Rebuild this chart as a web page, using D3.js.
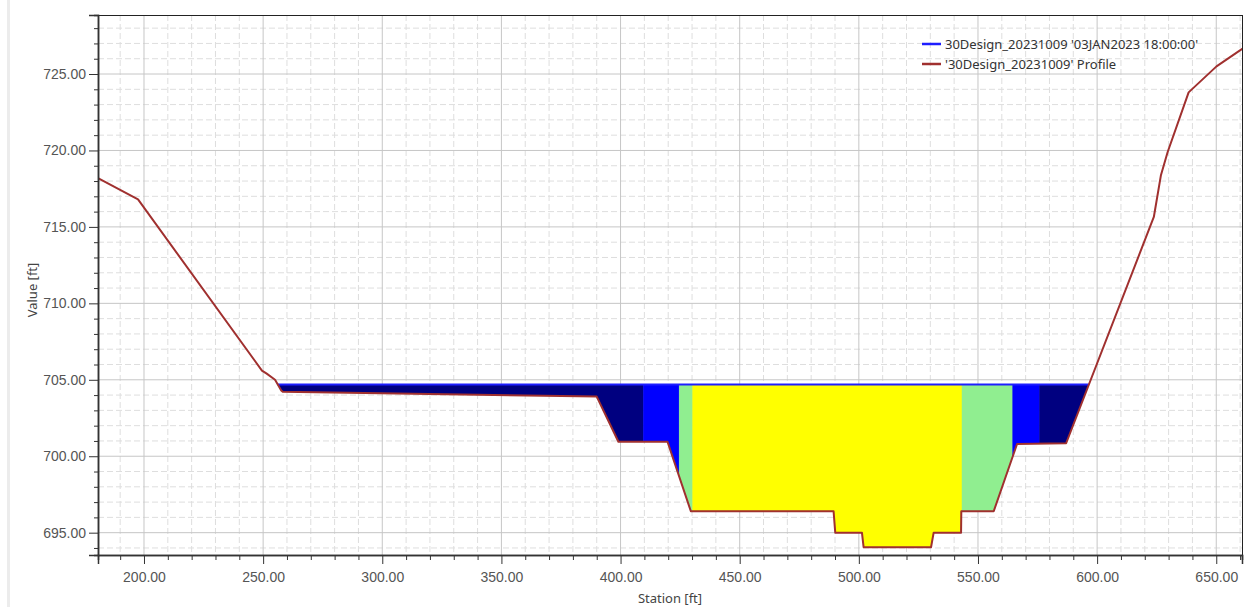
<!DOCTYPE html>
<html><head><meta charset="utf-8">
<script src="https://cdn.jsdelivr.net/npm/d3@7"></script>
<style>
html,body{margin:0;padding:0;background:#fff;}
svg{display:block;font-family:"Noto Sans","Open Sans",sans-serif;}
</style></head>
<body>
<svg id="chart" width="1249" height="607"></svg>
<script>
// ---- data ----
const groundStation = [180.0, 197.5, 249.5, 251.5, 255.0, 257.6, 258.2, 390.0, 399.1, 419.7, 429.5, 489.4, 490.1, 501.3, 502.0, 530.3, 531.4, 542.9, 543.0, 556.6, 566.4, 587.0, 623.8, 626.8, 629.6, 638.4, 650.1, 661.4];
const groundElev    = [718.25, 716.8, 705.6, 705.4, 705.0, 704.3, 704.22, 703.9, 700.95, 700.95, 696.4, 696.4, 695.0, 695.0, 694.05, 694.05, 695.0, 695.0, 696.4, 696.4, 700.8, 700.85, 715.65, 718.4, 719.9, 723.8, 725.5, 726.7];
const wse = 704.7;
// velocity distribution slices: boundaries (stations) and colours
const sliceBounds = [409.6, 424.6, 430.3, 543.3, 564.6, 575.9];
const sliceColors = ["#000080", "#0000ff", "#90ee90", "#ffff00", "#90ee90", "#0000ff", "#000080"];
const xTicks = [200, 250, 300, 350, 400, 450, 500, 550, 600, 650];
const yTicks = [695, 700, 705, 710, 715, 720, 725];
const legendLabels = ["30Design_20231009 '03JAN2023 18:00:00'", "'30Design_20231009' Profile"];

// ---- layout ----
const L = 98, T = 15, R = 1242, B = 555;
const svg = d3.select("#chart");
const x = d3.scaleLinear().domain([180.7, 660.8]).range([L, R]);
const y = d3.scaleLinear().domain([693.54, 728.86]).range([B, T]);

// left window strip
svg.append("rect").attr("x", 7).attr("y", 0).attr("width", 3).attr("height", 607).attr("fill", "#ececec");

const g = svg.append("g");
// grid minor
const xMinor = d3.range(190, 661, 10).filter(v => v % 50 !== 0);
const yMinor = d3.range(694, 729, 1).filter(v => v % 5 !== 0);
g.selectAll(".xm").data(xMinor).join("line")
  .attr("x1", d => x(d)).attr("x2", d => x(d)).attr("y1", T).attr("y2", B)
  .attr("stroke", "#dedede").attr("stroke-dasharray", "6,3").attr("stroke-width", 1);
g.selectAll(".ym").data(yMinor).join("line")
  .attr("y1", d => y(d)).attr("y2", d => y(d)).attr("x1", L).attr("x2", R)
  .attr("stroke", "#dedede").attr("stroke-dasharray", "6,3").attr("stroke-width", 1);
g.selectAll(".xM").data(xTicks).join("line")
  .attr("x1", d => x(d)).attr("x2", d => x(d)).attr("y1", T).attr("y2", B)
  .attr("stroke", "#c6c6c6").attr("stroke-width", 1);
g.selectAll(".yM").data(yTicks).join("line")
  .attr("y1", d => y(d)).attr("y2", d => y(d)).attr("x1", L).attr("x2", R)
  .attr("stroke", "#c6c6c6").attr("stroke-width", 1);

// ---- water polygon ----
const pts = groundStation.map((s, i) => [s, groundElev[i]]);
function crossAt(a, b) { const t = (wse - a[1]) / (b[1] - a[1]); return [a[0] + t * (b[0] - a[0]), wse]; }
let li = pts.findIndex(p => p[1] < wse);
let ri = pts.length - 1; while (pts[ri][1] >= wse) ri--;
const leftPt = crossAt(pts[li - 1], pts[li]);
const rightPt = crossAt(pts[ri], pts[ri + 1]);
const water = [leftPt, ...pts.slice(li, ri + 1), rightPt];
const defs = svg.append("defs");
defs.append("clipPath").attr("id", "plotclip").append("rect")
  .attr("x", L).attr("y", T).attr("width", R - L).attr("height", B - T);
defs.append("clipPath").attr("id", "waterclip").append("path")
  .attr("d", d3.line().x(d => x(d[0])).y(d => y(d[1]))(water) + "Z");

const edges = [leftPt[0], ...sliceBounds, rightPt[0]];
const wg = svg.append("g").attr("clip-path", "url(#waterclip)");
wg.selectAll("rect").data(sliceColors).join("rect")
  .attr("x", (d, i) => x(edges[i])).attr("width", (d, i) => x(edges[i + 1]) - x(edges[i]))
  .attr("y", y(wse)).attr("height", B - y(wse)).attr("fill", d => d)
  .attr("stroke", d => d).attr("stroke-width", 0.5);

// water surface line
svg.append("line").attr("x1", x(leftPt[0])).attr("x2", x(rightPt[0]))
  .attr("y1", y(wse)).attr("y2", y(wse)).attr("stroke", "#1e1eff").attr("stroke-width", 2);

// ground profile
svg.append("g").attr("clip-path", "url(#plotclip)").append("path")
  .attr("d", d3.line().x(d => x(d[0])).y(d => y(d[1]))(pts))
  .attr("fill", "none").attr("stroke", "#a0302f").attr("stroke-width", 2).attr("stroke-linejoin", "round");

// frame
svg.append("line").attr("x1", L).attr("x2", R).attr("y1", T + 0.5).attr("y2", T + 0.5).attr("stroke", "#222").attr("stroke-width", 1);
svg.append("line").attr("x1", R + 0.5).attr("x2", R + 0.5).attr("y1", T).attr("y2", B).attr("stroke", "#222").attr("stroke-width", 1);

// axes
const xAxis = svg.append("g").attr("transform", `translate(0,${B})`);
xAxis.call(d3.axisBottom(x).tickValues(xMinor).tickSize(5).tickFormat(""));
xAxis.append("g").call(d3.axisBottom(x).tickValues(xTicks).tickSize(9).tickPadding(8).tickFormat(d3.format(".2f")));
const yAxis = svg.append("g").attr("transform", `translate(${L},0)`);
yAxis.call(d3.axisLeft(y).tickValues(yMinor).tickSize(4).tickFormat(""));
yAxis.append("g").call(d3.axisLeft(y).tickValues(yTicks).tickSize(9).tickPadding(3).tickFormat(d3.format(".2f")));
svg.selectAll(".domain").attr("stroke", "#333").attr("stroke-width", 1.5);
svg.selectAll(".tick line").attr("stroke", "#333");
svg.selectAll(".tick text").attr("fill", "#555").style("font-size", "14px");

// axis titles
svg.append("text").attr("x", (L + R) / 2 + 0).attr("y", 603).attr("text-anchor", "middle")
  .attr("fill", "#444").style("font-size", "13px").text("Station [ft]");
svg.append("text").attr("transform", "translate(37,290) rotate(-90)").attr("text-anchor", "middle")
  .attr("fill", "#444").style("font-size", "13px").text("Value [ft]");

// legend
const legColors = ["#1e1eff", "#a0302f"];
const lg = svg.append("g");
legendLabels.forEach((t, i) => {
  lg.append("line").attr("x1", 922).attr("x2", 941).attr("y1", 44 + i * 20).attr("y2", 44 + i * 20)
    .attr("stroke", legColors[i]).attr("stroke-width", 2.5);
  lg.append("text").attr("x", 945).attr("y", 49 + i * 20).attr("fill", "#333")
    .style("font-size", "13px").text(t);
});
</script>
</body></html>
